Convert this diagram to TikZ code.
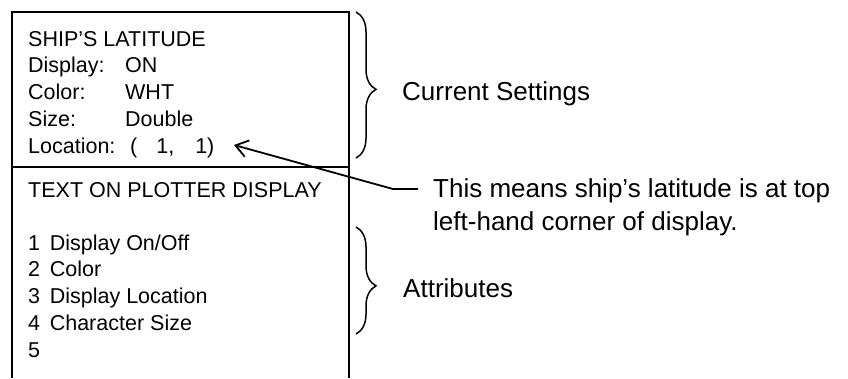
\documentclass[tikz,border=0pt]{standalone}
\usepackage{fontspec}
\setmainfont{Liberation Sans}
\usetikzlibrary{arrows.meta, decorations.pathreplacing}

\begin{document}
\begin{tikzpicture}[x=1pt, y=-1pt,
  boxtxt/.style={anchor=base west, inner sep=0pt, font=\fontsize{21.5}{26}\selectfont},
  sidetxt/.style={anchor=base west, inner sep=0pt, font=\fontsize{26}{33}\selectfont},
  frame/.style={line width=1.7pt},
  curly/.style={decorate, decoration={brace, amplitude=20pt, aspect=#1}, line width=1.5pt}
]
  \useasboundingbox (0,0) rectangle (848,378);

  % display frame, open at the bottom
  \draw[frame] (12,378) -- (12,12) -- (349,12) -- (349,378);
  \draw[frame] (12,167) -- (349,167);

  % current settings
  \node[boxtxt] (lat) at (28,46) {SHIP'S LATITUDE};
  \node[boxtxt] (disp) at (28,72.8) {Display:};
  \node[boxtxt] (dispval) at (125,72.8) {ON};
  \node[boxtxt] (col) at (28,99.6) {Color:};
  \node[boxtxt] (colval) at (125,99.6) {WHT};
  \node[boxtxt] (size) at (28,126.4) {Size:};
  \node[boxtxt] (sizeval) at (125,126.4) {Double};
  \node[boxtxt] (loc) at (28,153.2) {Location:};
  \node[boxtxt] (locval) at (130,153.2) {(\hspace{19pt}1,\hspace{21pt}1)};

  % attributes
  \node[boxtxt] (plotter) at (28,197) {TEXT ON PLOTTER DISPLAY};
  \node[boxtxt] (att1) at (28,250) {1\hspace{0.45em}Display On/Off};
  \node[boxtxt] (att2) at (28,276.75) {2\hspace{0.45em}Color};
  \node[boxtxt] (att3) at (28,303.5) {3\hspace{0.45em}Display Location};
  \node[boxtxt] (att4) at (28,330.25) {4\hspace{0.45em}Character Size};
  \node[boxtxt] (att5) at (28,357) {5};

  % braces and side labels
  \draw[curly=0.53] (356,12) -- (356,158);
  \node[sidetxt] (cur) at (402,100) {Current Settings};
  \draw[curly=0.55] (356,227) -- (356,334);
  \node[sidetxt] (attr) at (403,297) {Attributes};

  % note on the location
  \node[sidetxt] (note1) at (433,197) {This means ship's latitude is at top};
  \node[sidetxt] (note2) at (433,230) {left-hand corner of display.};
  \coordinate (notestart) at (418,189);
  \coordinate (notebend) at (393,189);
  \coordinate (loctip) at (234,145);
  \draw[line width=1.8pt, -{Straight Barb[length=12pt, width=17pt, line width=1.8pt]}]
    (notestart) -- (notebend) -- (loctip);
\end{tikzpicture}
\end{document}
